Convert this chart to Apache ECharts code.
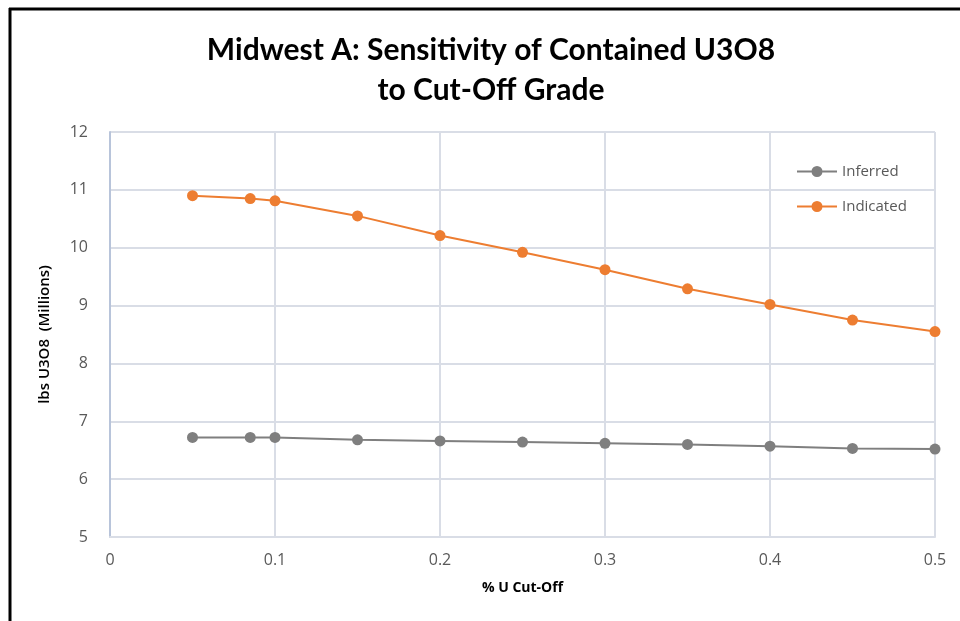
<!DOCTYPE html>
<html>
<head>
<meta charset="utf-8">
<script src="https://cdn.jsdelivr.net/npm/echarts@6/dist/echarts.min.js"></script>
<style>
  html, body { margin: 0; padding: 0; background: #fff; }
  #chart { width: 960px; height: 621px; }
</style>
</head>
<body>
<div id="chart"></div>
<script>
// Cut-off grades (% U)
const cutOff = [0.05, 0.085, 0.1, 0.15, 0.2, 0.25, 0.3, 0.35, 0.4, 0.45, 0.5];
// Contained U3O8, millions of lbs
const inferred  = [6.72, 6.72, 6.72, 6.68, 6.66, 6.64, 6.62, 6.60, 6.57, 6.53, 6.52];
const indicated = [10.90, 10.85, 10.81, 10.55, 10.21, 9.92, 9.62, 9.29, 9.02, 8.75, 8.55];

const seriesNames = ['Inferred', 'Indicated'];
const seriesColors = ['#7f7f7f', '#ed7d31'];

const pairs = ys => cutOff.map((x, i) => [x, ys[i]]);

// legend glyph: short line with a dot in the middle
const lineDotIcon = 'path://M0,5 L40,5 L40,7 L0,7 Z M20,0.5 A5.5,5.5 0 1,1 20,11.5 A5.5,5.5 0 1,1 20,0.5 Z';

const chart = echarts.init(document.getElementById('chart'));
chart.setOption({
  backgroundColor: '#fff',
  animation: false,
  title: {
    text: 'Midwest A: Sensitivity of Contained U3O8\nto Cut-Off Grade',
    left: 486,
    top: 25,
    textAlign: 'center',
    textStyle: {
      fontFamily: 'Lato',
      fontWeight: 'bold',
      fontSize: 30,
      lineHeight: 40,
      color: '#000'
    }
  },
  legend: {
    data: seriesNames,
    orient: 'vertical',
    left: 792,
    top: 159,
    itemWidth: 40,
    itemHeight: 12,
    itemGap: 20,
    icon: lineDotIcon,
    textStyle: { fontFamily: 'Open Sans', fontSize: 15, color: '#595959' }
  },
  grid: { left: 110, right: 25, top: 132, bottom: 84, containLabel: false },
  xAxis: {
    type: 'value',
    min: 0, max: 0.5, interval: 0.1,
    name: '% U Cut-Off',
    nameLocation: 'middle',
    nameGap: 44,
    nameTextStyle: { fontFamily: 'Open Sans', fontWeight: 'bold', fontSize: 14, color: '#000' },
    axisLine: { show: true, lineStyle: { color: '#d9dde6', width: 2 } },
    axisTick: { show: false },
    axisLabel: { fontFamily: 'Open Sans', fontSize: 16, color: '#595959', margin: 15 },
    splitLine: { show: true, lineStyle: { color: '#d9dde6', width: 2 } }
  },
  yAxis: {
    type: 'value',
    min: 5, max: 12, interval: 1,
    name: 'lbs U3O8  (Millions)',
    nameLocation: 'middle',
    nameGap: 58,
    nameRotate: 90,
    nameTextStyle: { fontFamily: 'Open Sans', fontWeight: 600, fontSize: 15, color: '#000' },
    axisLine: { show: true, lineStyle: { color: '#b8c4da', width: 2 } },
    axisTick: { show: false },
    axisLabel: { fontFamily: 'Open Sans', fontSize: 16, color: '#595959', margin: 22 },
    splitLine: { show: true, lineStyle: { color: '#d9dde6', width: 2 } }
  },
  series: [
    {
      name: seriesNames[0],
      type: 'line',
      data: pairs(inferred),
      symbol: 'circle',
      symbolSize: 11,
      color: seriesColors[0],
      lineStyle: { width: 2, color: seriesColors[0] },
      itemStyle: { color: seriesColors[0] }
    },
    {
      name: seriesNames[1],
      type: 'line',
      data: pairs(indicated),
      symbol: 'circle',
      symbolSize: 11,
      color: seriesColors[1],
      lineStyle: { width: 2, color: seriesColors[1] },
      itemStyle: { color: seriesColors[1] }
    }
  ],
  graphic: [
    // frame edges along the top and left
    { type: 'line', shape: { x1: 9, y1: 9, x2: 960, y2: 9 }, style: { stroke: '#000', lineWidth: 3 }, z: 10 },
    { type: 'line', shape: { x1: 10, y1: 8, x2: 10, y2: 621 }, style: { stroke: '#000', lineWidth: 3 }, z: 10 }
  ]
});
</script>
</body>
</html>
